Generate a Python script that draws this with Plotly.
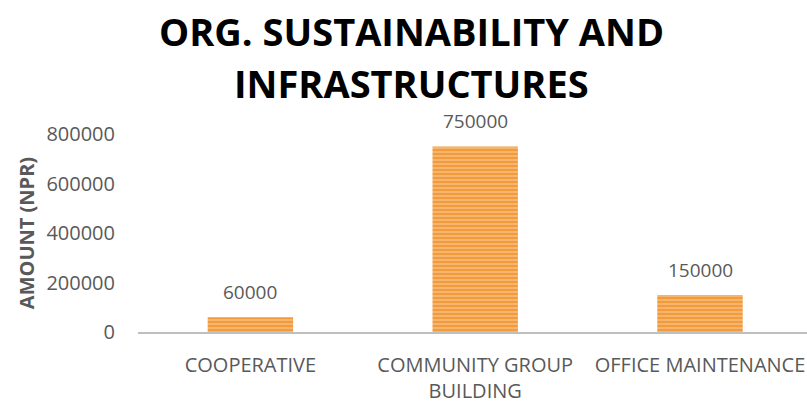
import plotly.graph_objects as go

categories = ["COOPERATIVE", "COMMUNITY GROUP<br>BUILDING", "OFFICE MAINTENANCE"]
amounts = [60000, 750000, 150000]
y_ticks = [0, 200000, 400000, 600000, 800000]
title_lines = ["ORG. SUSTAINABILITY AND", "INFRASTRUCTURES"]

W, H = 807, 404
LEFT, TOP, BOTTOM = 138, 134, 69
PLOT_H = H - TOP - BOTTOM
PLOT_W = W - LEFT

fig = go.Figure(
    go.Bar(
        x=categories,
        y=amounts,
        width=0.38,
        marker=dict(
            color="#F29B3C",
            line=dict(width=0),
            pattern=dict(shape="-", fgcolor="#FBD3A6", bgcolor="#F29B3C",
                         size=4, solidity=0.45),
        ),
        hoverinfo="x+y",
    )
)

# value labels above each bar
for cat, val in zip(categories, amounts):
    fig.add_annotation(
        x=cat, y=val, xref="x", yref="y",
        text=str(val), showarrow=False,
        yanchor="bottom", yshift=10,
        font=dict(family="Open Sans", size=19, color="#595959"),
    )

# two-line bold title centred on the page, one annotation per line
title_cx = 411
for py, line in zip([29, 82], title_lines):
    fig.add_annotation(
        x=(title_cx - LEFT) / PLOT_W, xref="paper",
        y=(H - BOTTOM - py) / PLOT_H, yref="paper",
        text=f"<b>{line}</b>", showarrow=False,
        xanchor="center", yanchor="middle",
        font=dict(family="Open Sans", size=38, color="#000000"),
    )

fig.update_layout(
    width=W,
    height=H,
    margin=dict(l=LEFT, r=0, t=TOP, b=BOTTOM),
    paper_bgcolor="white",
    plot_bgcolor="white",
    showlegend=False,
)

fig.update_xaxes(
    range=[-0.5, 2.476],
    showline=True,
    linecolor="#BFBFBF",
    linewidth=2,
    ticks="",
    showgrid=False,
    tickangle=0,
    ticklabelstandoff=14,
    tickfont=dict(family="Open Sans", size=20, color="#595959"),
)

fig.update_yaxes(
    range=[0, 800000],
    tickvals=y_ticks,
    ticktext=[str(v) for v in y_ticks],
    showgrid=False,
    zeroline=False,
    showline=False,
    ticks="",
    ticklabelstandoff=22,
    tickfont=dict(family="Open Sans", size=20, color="#595959"),
    title=dict(text="<b>AMOUNT (NPR)</b>",
               font=dict(family="Open Sans", size=20, color="#595959"),
               standoff=6),
)

fig.write_html("out.html")
